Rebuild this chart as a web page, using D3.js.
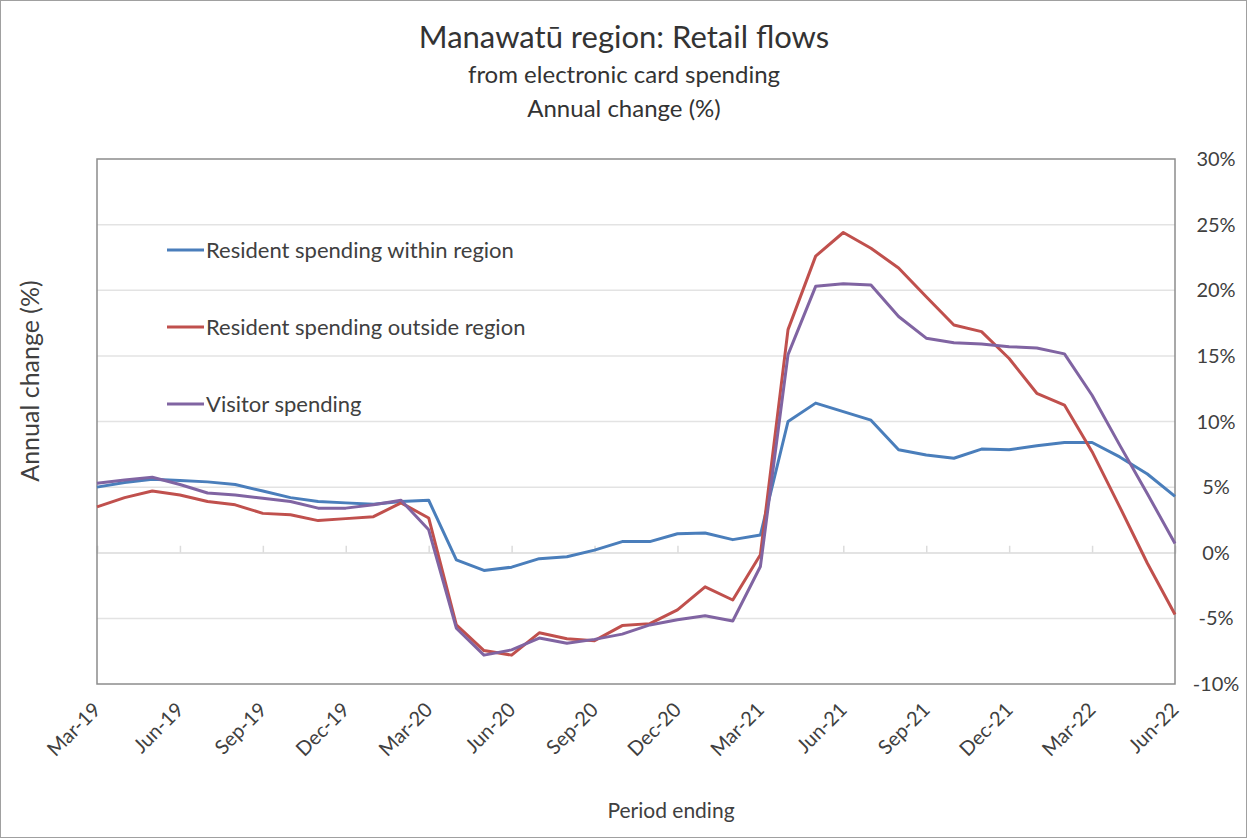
<!DOCTYPE html>
<html>
<head>
<meta charset="utf-8">
<script src="https://cdn.jsdelivr.net/npm/d3@7"></script>
<style>
  body { margin: 0; background: #fff; }
  svg { display: block; font-family: Lato, "Open Sans", sans-serif; }
</style>
</head>
<body>
<div id="chart"></div>
<script>
// monthly periods, Mar-19 .. Jun-22
const months = [
  'Mar-19','Apr-19','May-19','Jun-19','Jul-19','Aug-19','Sep-19','Oct-19','Nov-19','Dec-19',
  'Jan-20','Feb-20','Mar-20','Apr-20','May-20','Jun-20','Jul-20','Aug-20','Sep-20','Oct-20',
  'Nov-20','Dec-20','Jan-21','Feb-21','Mar-21','Apr-21','May-21','Jun-21','Jul-21','Aug-21',
  'Sep-21','Oct-21','Nov-21','Dec-21','Jan-22','Feb-22','Mar-22','Apr-22','May-22','Jun-22'
];
const tickLabels = ['Mar-19','Jun-19','Sep-19','Dec-19','Mar-20','Jun-20','Sep-20','Dec-20',
  'Mar-21','Jun-21','Sep-21','Dec-21','Mar-22','Jun-22'];
const yTicks = [30, 25, 20, 15, 10, 5, 0, -5, -10];

const withinRegion = [
  5.0, 5.35, 5.6, 5.5, 5.4, 5.2, 4.7, 4.2, 3.9, 3.8,
  3.7, 3.9, 4.0, -0.55, -1.35, -1.1, -0.45, -0.3, 0.2, 0.85,
  0.85, 1.45, 1.5, 1.0, 1.35, 10.0, 11.4, 10.75, 10.1, 7.85,
  7.45, 7.2, 7.9, 7.85, 8.15, 8.4, 8.4, 7.3, 6.0, 4.3
];
const outsideRegion = [
  3.5, 4.2, 4.7, 4.4, 3.9, 3.65, 3.0, 2.9, 2.45, 2.6,
  2.75, 3.8, 2.65, -5.5, -7.45, -7.8, -6.1, -6.55, -6.7, -5.55,
  -5.4, -4.35, -2.6, -3.6, -0.15, 17.0, 22.6, 24.4, 23.2, 21.7,
  19.5, 17.35, 16.85, 14.8, 12.15, 11.25, 7.7, 3.5, -0.8, -4.7
];
const visitor = [
  5.3, 5.55, 5.75, 5.2, 4.55, 4.4, 4.15, 3.9, 3.4, 3.4,
  3.65, 4.0, 1.75, -5.75, -7.8, -7.4, -6.5, -6.9, -6.6, -6.2,
  -5.5, -5.1, -4.8, -5.2, -1.05, 15.1, 20.3, 20.5, 20.4, 18.0,
  16.35, 16.0, 15.9, 15.7, 15.6, 15.15, 12.0, 8.2, 4.5, 0.7
];

const seriesNames = ['Resident spending within region', 'Resident spending outside region', 'Visitor spending'];
const seriesColors = ['#4a7ebb', '#c0504d', '#8064a2'];
const series = [withinRegion, outsideRegion, visitor];

const W = 1247, H = 838;
const plot = { left: 97, right: 1175, top: 159, bottom: 684 };

const svg = d3.select('#chart').append('svg').attr('width', W).attr('height', H);

svg.append('rect').attr('x', 0.5).attr('y', 0.5).attr('width', W - 1).attr('height', H - 1)
  .attr('fill', '#fff').attr('stroke', '#a0a0a0');

const x = d3.scaleLinear().domain([0, months.length - 1]).range([plot.left, plot.right]);
const y = d3.scaleLinear().domain([-10, 30]).range([plot.bottom, plot.top]);

// gridlines
svg.append('g').selectAll('line').data(yTicks.filter(t => t !== 30 && t !== -10)).join('line')
  .attr('x1', plot.left).attr('x2', plot.right)
  .attr('y1', d => y(d)).attr('y2', d => y(d))
  .attr('stroke', '#e3e3e3').attr('stroke-width', 1.5);

// category axis on the zero line, ticks pointing up
const xAxis = svg.append('g').attr('transform', `translate(0,${y(0)})`)
  .call(d3.axisTop(x).tickValues(d3.range(0, months.length, 3)).tickSize(7).tickFormat(''));
xAxis.select('.domain').attr('stroke', '#e3e3e3').attr('stroke-width', 1.5);
xAxis.selectAll('.tick line').attr('stroke', '#dcdcdc').attr('stroke-width', 1.5);

// plot border
svg.append('rect').attr('x', plot.left).attr('y', plot.top)
  .attr('width', plot.right - plot.left).attr('height', plot.bottom - plot.top)
  .attr('fill', 'none').attr('stroke', '#8c8c8c').attr('stroke-width', 1.5);

// x tick labels at the bottom, rotated
svg.append('g').selectAll('text').data(tickLabels).join('text')
  .attr('transform', (d, i) => `translate(${x(i * 3) + 5},${plot.bottom + 27}) rotate(-45)`)
  .attr('text-anchor', 'end')
  .attr('font-size', 20).attr('fill', '#404040')
  .text(d => d);

// right y axis labels
svg.append('g').selectAll('text').data(yTicks).join('text')
  .attr('x', 1216).attr('y', d => y(d)).attr('dy', '0.35em')
  .attr('text-anchor', 'middle').attr('font-size', 20).attr('fill', '#404040')
  .text(d => d + '%');

// lines
const line = d3.line().x((d, i) => x(i)).y(d => y(d));
series.forEach((s, k) => {
  svg.append('path').datum(s)
    .attr('fill', 'none').attr('stroke', seriesColors[k]).attr('stroke-width', 3)
    .attr('stroke-linejoin', 'round').attr('d', line);
});

// legend
const legendY = [250, 327, 404];
seriesNames.forEach((name, k) => {
  svg.append('line').attr('x1', 167).attr('x2', 204).attr('y1', legendY[k]).attr('y2', legendY[k])
    .attr('stroke', seriesColors[k]).attr('stroke-width', 3);
  svg.append('text').attr('x', 206).attr('y', legendY[k]).attr('dy', '0.35em')
    .attr('font-size', 22).attr('fill', '#404040').text(name);
});

// titles
svg.append('text').attr('x', 624).attr('y', 48).attr('text-anchor', 'middle')
  .attr('font-size', 31).attr('fill', '#333').text('Manawatū region: Retail flows');
svg.append('text').attr('x', 624).attr('y', 83).attr('text-anchor', 'middle')
  .attr('font-size', 24).attr('fill', '#333').text('from electronic card spending');
svg.append('text').attr('x', 624).attr('y', 117).attr('text-anchor', 'middle')
  .attr('font-size', 24).attr('fill', '#333').text('Annual change (%)');

svg.append('text').attr('transform', 'translate(39,381) rotate(-90)').attr('text-anchor', 'middle')
  .attr('font-size', 25).attr('fill', '#404040').text('Annual change (%)');
svg.append('text').attr('x', 671).attr('y', 818).attr('text-anchor', 'middle')
  .attr('font-size', 21).attr('fill', '#404040').text('Period ending');
</script>
</body>
</html>
